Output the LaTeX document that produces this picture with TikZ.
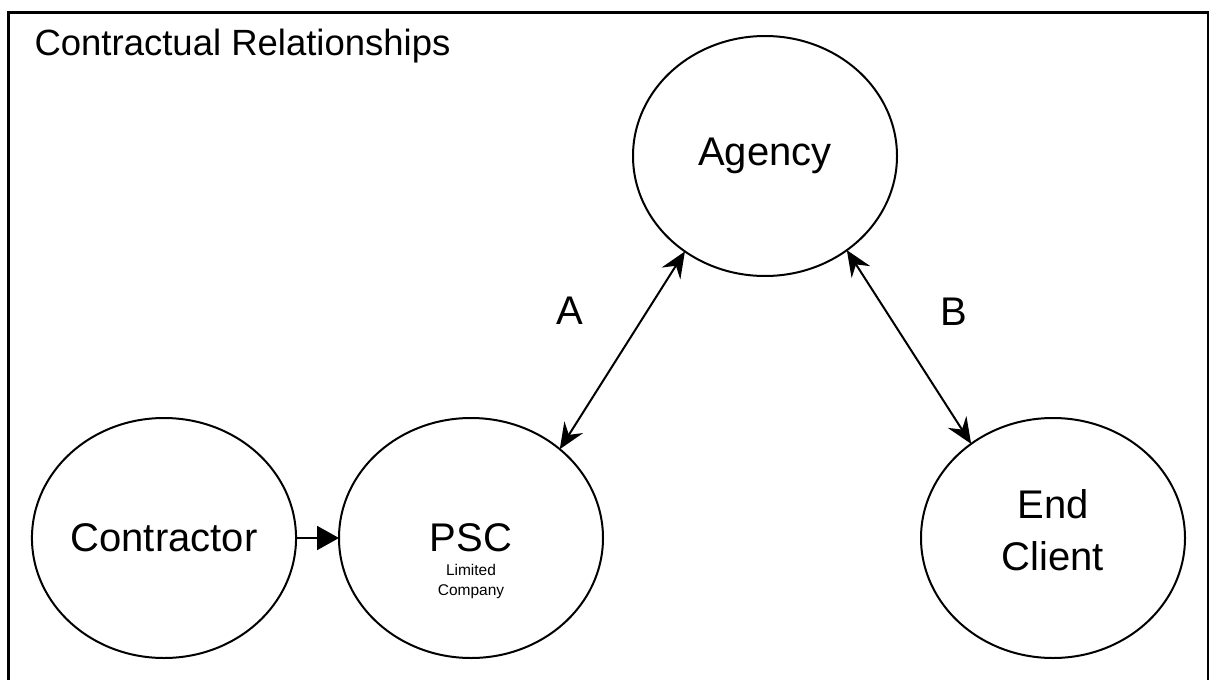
\documentclass[tikz,border=0pt]{standalone}
\usepackage{fontspec}
\setmainfont{Liberation Sans}
\usetikzlibrary{shapes.geometric,arrows.meta}

\tikzset{
    party/.style={ellipse, draw, line width=2pt, minimum width=264pt, minimum height=240pt,
        inner sep=0pt, outer sep=0pt, align=center, font=\fontsize{40}{52}\selectfont},
    big/.style={font=\fontsize{40}{52}\selectfont, align=center},
    link/.style={line width=2pt, {Stealth[length=26pt,width=22pt,inset=9pt]}-{Stealth[length=26pt,width=22pt,inset=9pt]}},
    feeds/.style={line width=2pt, -{Triangle[length=22pt,width=24pt]}}
}

\begin{document}
\begin{tikzpicture}[x=1pt,y=-1pt]
        \useasboundingbox (0,0) rectangle (1211,680);

        % frame, runs off the bottom of the page
        \draw[line width=2.2pt] (8.5,680) -- (8.5,12.5) -- (1208,12.5) -- (1208,680);
        \node[anchor=base west, font=\fontsize{36.5}{42}\selectfont] at (31,55) (title) {Contractual Relationships};

        \node[party] at (765,156) (agency) {Agency};
        \node[party] at (164,538) (contractor) {Contractor};
        \node[party] at (471,538) (psc) {PSC};
        \node[font=\fontsize{15.5}{20}\selectfont, align=center] at (471,581) (pscsub) {Limited\\Company};
        \node[party] at (1053,538) (client) {};
        \node[big] at (1053,530) (clientname) {End\\Client};

        \draw[feeds] (contractor) -- (psc);
        \draw[link] (psc.45) -- (agency.-130);
        \draw[link] (agency.-49) -- (client.131);

        \node[big] at (570,311) (a) {A};
        \node[big] at (954,312) (b) {B};

    \end{tikzpicture}
\end{document}
